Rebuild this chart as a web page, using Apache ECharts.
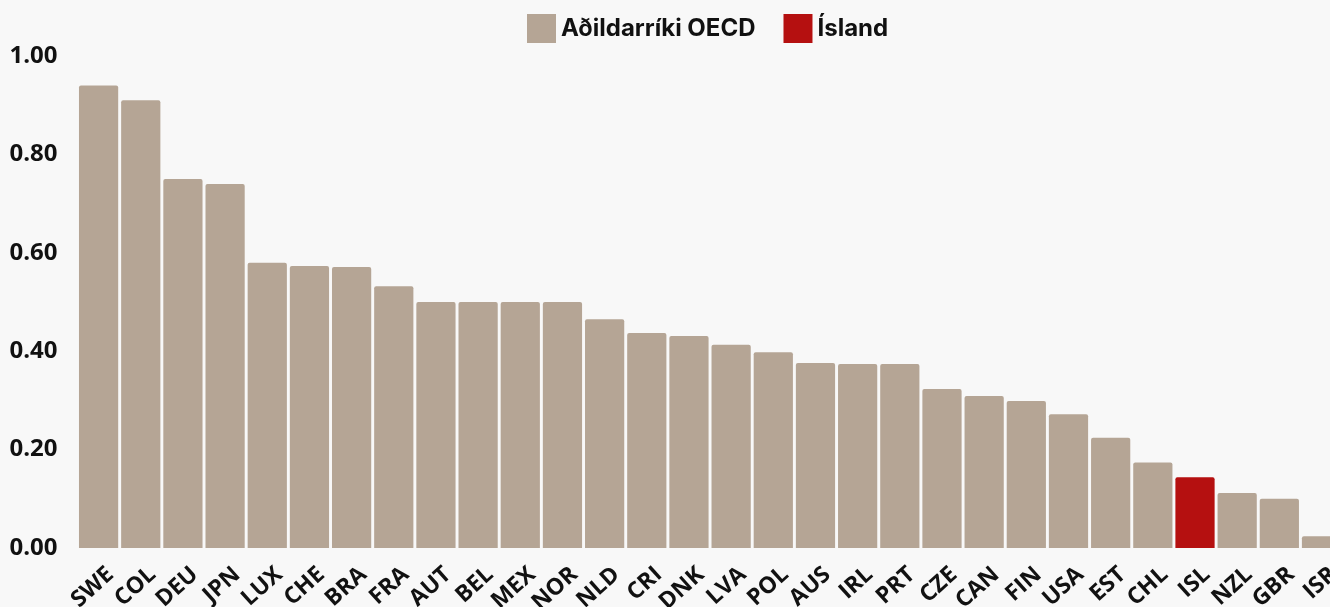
<!DOCTYPE html>
<html><head><meta charset="utf-8">
<script src="https://cdn.jsdelivr.net/npm/echarts@6/dist/echarts.min.js"></script>
<style>html,body{margin:0;padding:0;background:#f8f8f8;overflow:hidden;}#c{width:1330px;height:607px;}</style>
</head><body><div id="c"></div>
<script>
const categories = ['SWE','COL','DEU','JPN','LUX','CHE','BRA','FRA','AUT','BEL','MEX','NOR','NLD','CRI','DNK','LVA','POL','AUS','IRL','PRT','CZE','CAN','FIN','USA','EST','CHL','ISL','NZL','GBR','ISR'];
const values = [0.94,0.91,0.75,0.74,0.58,0.573,0.571,0.532,0.50,0.50,0.50,0.50,0.465,0.437,0.431,0.413,0.398,0.376,0.374,0.374,0.323,0.309,0.299,0.272,0.224,0.174,0.144,0.112,0.10,0.024];
const highlight = 'ISL';
const seriesNames = ['Aðildarríki OECD','Ísland'];

const oecd = values.map((v,i)=>categories[i]===highlight?'-':v);
const isl = values.map((v,i)=>categories[i]===highlight?v:'-');
const chart = echarts.init(document.getElementById('c'));
chart.setOption({
  backgroundColor:'#f8f8f8',
  animation:false,
  legend:{top:9,left:522,itemWidth:29,itemHeight:29,itemGap:28,icon:'rect',
    textStyle:{fontFamily:'Inter',fontWeight:'bold',fontSize:24,color:'#111'},
    data:seriesNames},
  grid:{left:77.5,right:-12.6,top:56,bottom:59,containLabel:false,outerBoundsMode:'none'},
  xAxis:{type:'category',data:categories,
    axisLine:{show:false},axisTick:{show:false},
    axisLabel:{interval:0,rotate:42,margin:34,align:'center',hideOverlap:false,
      formatter:v=>'{a|'+v+'}',
      rich:{a:{width:32,align:'right',fontFamily:'Open Sans',fontWeight:'bold',fontSize:23,color:'#111'}}}},
  yAxis:{type:'value',min:0,max:1,interval:0.2,
    splitLine:{show:false},axisLine:{show:false},axisTick:{show:false},
    axisLabel:{formatter:v=>v.toFixed(2),align:'left',margin:68,fontFamily:'Open Sans',fontWeight:'bold',fontSize:24,color:'#111'}},
  series:[
    {name:seriesNames[0],type:'bar',data:oecd,barCategoryGap:'7%',barGap:'-100%',itemStyle:{color:'#b5a595',borderRadius:[2,2,0,0]}},
    {name:seriesNames[1],type:'bar',data:isl,barCategoryGap:'7%',barGap:'-100%',itemStyle:{color:'#b51010',borderRadius:[2,2,0,0]}}
  ]
});
</script></body></html>
